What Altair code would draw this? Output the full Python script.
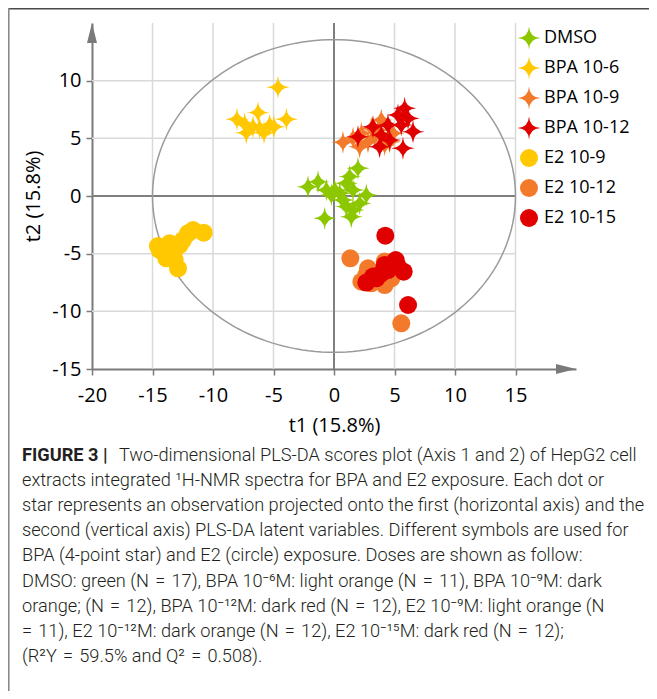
import altair as alt
import numpy as np
import pandas as pd

# ---------------- data ----------------
GROUPS = ["DMSO", "BPA 10-6", "BPA 10-9", "BPA 10-12", "E2 10-9", "E2 10-12", "E2 10-15"]
COLORS = ["#8cc700", "#ffc800", "#f47a2b", "#e00000", "#ffc800", "#f47a2b", "#e00000"]

DMSO_T1 = [-2.15, -1.32, -0.63, 0.06, -0.22, 1.02, 1.29, 1.98, 1.57, 2.67, 1.02, 1.57, 2.12, 1.43, -0.77, 0.47, 0.74]
DMSO_T2 = [0.81, 1.24, 0.52, 0.52, 0.09, 1.10, 1.68, 2.40, 0.52, 0.09, -0.92, -1.21, -0.64, -1.79, -1.94, 0.23, -0.35]

BPA6_T1 = [-4.63, -8.02, -6.28, -3.93, -7.24, -5.79, -4.96, -7.38, -6.69, -6.14, -5.31]
BPA6_T2 = [9.43, 6.65, 7.23, 6.65, 5.49, 5.49, 6.01, 6.24, 6.01, 5.87, 6.16]

BPA9_T1 = [0.74, 1.57, 2.26, 2.81, 3.36, 3.91, 3.64, 4.19, 4.60, 3.09, 4.88, 2.12]
BPA9_T2 = [4.65, 5.00, 5.43, 4.71, 5.14, 6.59, 5.72, 4.42, 4.71, 5.87, 5.43, 4.28]

BPA12_T1 = [1.98, 3.22, 3.91, 4.46, 4.60, 5.29, 5.84, 6.12, 6.53, 5.70, 3.77, 5.56]
BPA12_T2 = [5.14, 6.01, 5.29, 6.16, 4.86, 7.02, 7.60, 6.73, 5.58, 4.13, 4.28, 6.16]

E2_9_T1 = [-14.55, -13.58, -12.75, -13.86, -13.17, -12.89, -12.07, -11.65, -10.77, -12.48, -14.41]
E2_9_T2 = [-4.34, -4.10, -4.25, -5.40, -5.49, -6.27, -3.24, -2.95, -3.18, -3.82, -4.68]

E2_12_T1 = [1.35, 2.81, 4.19, 4.74, 4.19, 3.09, 2.26, 5.56, 3.50, 5.01, 3.77, 2.67]
E2_12_T2 = [-5.40, -6.27, -5.69, -7.14, -7.72, -7.57, -7.43, -11.04, -6.71, -6.27, -7.14, -6.85]

E2_15_T1 = [4.24, 4.19, 5.10, 4.74, 5.76, 3.50, 2.67, 6.12, 4.46, 3.91, 5.29, 3.22]
E2_15_T2 = [-3.44, -5.98, -5.55, -5.98, -6.56, -7.14, -7.51, -9.45, -6.42, -6.71, -6.13, -6.99]

X_TICKS = [-20, -17.5, -15, -12.5, -10, -7.5, -5, -2.5, 0, 2.5, 5, 7.5, 10, 12.5, 15, 17.5]
Y_TICKS = [-15, -12.5, -10, -7.5, -5, -2.5, 0, 2.5, 5, 7.5, 10, 12.5]
GRID_X = [-15, -10, -5, 5, 10, 15]
GRID_Y = [-10, -5, 5, 10]
ELLIPSE_RX = 15.0
ELLIPSE_RY = 13.55

EQ = "\u2004=\u2004"
CAPTION_BOLD = "FIGURE 3 |"
CAPTION_LINES = [
    "Two-dimensional PLS-DA scores plot (Axis 1 and 2) of HepG2 cell",
    "extracts integrated \u00b9H-NMR spectra for BPA and E2 exposure. Each dot or",
    "star represents an observation projected onto the first (horizontal axis) and the",
    "second (vertical axis) PLS-DA latent variables. Different symbols are used for",
    "BPA (4-point star) and E2 (circle) exposure. Doses are shown as follow:",
    f"DMSO: green (N{EQ}17), BPA 10\u207b\u2076M: light orange (N{EQ}11), BPA 10\u207b\u2079M: dark",
    f"orange; (N{EQ}12), BPA 10\u207b\u00b9\u00b2M: dark red (N{EQ}12), E2 10\u207b\u2079M: light orange (N",
    f"={EQ[-1]}11), E2 10\u207b\u00b9\u00b2M: dark orange (N{EQ}12), E2 10\u207b\u00b9\u2075M: dark red (N{EQ}12);",
    f"(R\u00b2Y{EQ}59.5% and Q\u00b2{EQ}0.508).",
]

# ---------------- tables ----------------
series = [
    (DMSO_T1, DMSO_T2), (BPA6_T1, BPA6_T2), (BPA9_T1, BPA9_T2), (BPA12_T1, BPA12_T2),
    (E2_9_T1, E2_9_T2), (E2_12_T1, E2_12_T2), (E2_15_T1, E2_15_T2),
]
rows = []
for g, (xs, ys) in zip(GROUPS, series):
    for a, b in zip(xs, ys):
        rows.append({"group": g, "t1": a, "t2": b})
pts = pd.DataFrame(rows)

ang = np.linspace(0, 2 * np.pi, 181)
ell = pd.DataFrame({"i": np.arange(len(ang)), "t1": ELLIPSE_RX * np.cos(ang), "t2": ELLIPSE_RY * np.sin(ang)})

STAR = "M0,-1.28 Q0.07,-0.07 1.28,0 Q0.07,0.07 0,1.28 Q-0.07,0.07 -1.28,0 Q-0.07,-0.07 0,-1.28 Z"
SHAPES = [STAR, STAR, STAR, STAR, "circle", "circle", "circle"]

FONT = "Open Sans"
CAP_FONT = "Roboto"
CAP_SIZE = 18.2
AX = "#7a7a7a"

XS = alt.Scale(domain=[-20, 20], nice=False, zero=False)
YS = alt.Scale(domain=[-15, 15], nice=False, zero=False)

major_tick = {"condition": {"test": "datum.value % 5 == 0", "value": 6}, "value": 4}
lab = "datum.value % 5 == 0 ? '' + datum.value : ''"

x_axis = alt.Axis(values=X_TICKS, labelExpr=lab, tickSize=major_tick, grid=False,
                  domainColor=AX, domainWidth=2, tickColor=AX, tickWidth=1.5,
                  labelFont=FONT, labelFontSize=20, labelColor="black", labelFlush=False,
                  labelOverlap=False, labelPadding=10, title="t1 (15.8%)", titleFont=FONT,
                  titleFontSize=20, titleFontWeight="normal", titleColor="black", titlePadding=10)
y_axis = alt.Axis(values=Y_TICKS, labelExpr=lab, tickSize=major_tick, grid=False,
                  domainColor=AX, domainWidth=2, tickColor=AX, tickWidth=1.5,
                  labelFont=FONT, labelFontSize=20, labelColor="black", labelFlush=False,
                  labelOverlap=False, labelPadding=5, title="t2 (15.8%)", titleFont=FONT,
                  titleFontSize=20, titleFontWeight="normal", titleColor="black", titlePadding=8)

one = pd.DataFrame({"k": [0]})

gx = alt.Chart(pd.DataFrame({"v": GRID_X})).mark_rule(color="#d9d9d9", strokeWidth=1.5).encode(
    x=alt.X("v:Q", scale=XS, axis=x_axis), y=alt.datum(-15, scale=YS), y2=alt.datum(15))
gy = alt.Chart(pd.DataFrame({"v": GRID_Y})).mark_rule(color="#d9d9d9", strokeWidth=1.5).encode(
    y=alt.Y("v:Q", scale=YS, axis=y_axis), x=alt.datum(-20), x2=alt.datum(15))
z0 = alt.Chart(one).mark_rule(color="#7f7f7f", strokeWidth=2).encode(
    x=alt.datum(0), y=alt.datum(-15), y2=alt.datum(15))
z1 = alt.Chart(one).mark_rule(color="#7f7f7f", strokeWidth=2).encode(
    y=alt.datum(0), x=alt.datum(-20), x2=alt.datum(15))

ellipse = alt.Chart(ell).mark_line(color="#9a9a9a", strokeWidth=1.5).encode(
    x="t1:Q", y="t2:Q", order="i:Q")

points = alt.Chart(pts).mark_point(filled=True, size=324, opacity=1, strokeWidth=0).encode(
    x="t1:Q", y="t2:Q",
    color=alt.Color("group:N", scale=alt.Scale(domain=GROUPS, range=COLORS),
                    legend=alt.Legend(orient="none", legendX=428, legendY=6, title=None,
                                      labelFont=FONT, labelFontSize=18, labelColor="black",
                                      symbolSize=324, symbolStrokeWidth=0, symbolOpacity=1,
                                      rowPadding=6, labelOffset=6, gridAlign="all")),
    shape=alt.Shape("group:N", scale=alt.Scale(domain=GROUPS, range=SHAPES), legend=None),
)

arr_up = alt.Chart(one).mark_point(filled=True, size=400, color=AX, opacity=1, strokeWidth=0,
                                   shape="M0,0 L0.5,2 L-0.5,2 Z").encode(
    x=alt.datum(-20), y=alt.datum(15))
arr_rt = alt.Chart(one).mark_point(filled=True, size=400, color=AX, opacity=1, strokeWidth=0,
                                   shape="M0,0 L-2,-0.5 L-2,0.5 Z").encode(
    x=alt.datum(20), y=alt.datum(-15))

border_top = alt.Chart(one).mark_rule(color="#4a4a4a", strokeWidth=1.5).encode(
    x=alt.value(-84), x2=alt.value(557), y=alt.value(-14.3))
border_left = alt.Chart(one).mark_rule(color="#8a8a8a", strokeWidth=1.8).encode(
    x=alt.value(-83.3), y=alt.value(-15), y2=alt.value(668))

cap = pd.DataFrame({"i": list(range(len(CAPTION_LINES))), "text": CAPTION_LINES})
cap_rest = alt.Chart(cap).transform_calculate(
    px="datum.i == 0 ? 27 : -70", py="433 + 25.1 * datum.i"
).mark_text(align="left", baseline="middle", font=CAP_FONT, fontSize=CAP_SIZE, fontWeight=300,
            color="#231f20").encode(
    x=alt.X("px:Q", scale=None), y=alt.Y("py:Q", scale=None), text="text:N")
cap_bold = alt.Chart(pd.DataFrame({"text": [CAPTION_BOLD]})).mark_text(
    align="left", baseline="middle", font=CAP_FONT, fontSize=CAP_SIZE, fontWeight="bold", color="#231f20"
).encode(x=alt.value(-70), y=alt.value(433), text="text:N")

chart = alt.layer(gx, gy, z0, z1, ellipse, points, arr_up, arr_rt, border_top, border_left,
                  cap_rest, cap_bold).properties(
    width=484, height=346,
    padding={"left": 84, "top": 15, "right": 73, "bottom": 322},
    autosize=alt.AutoSizeParams(type="none"),
).configure_view(stroke=None)

chart.save("out.html", embed_options={"renderer": "svg", "actions": False})
